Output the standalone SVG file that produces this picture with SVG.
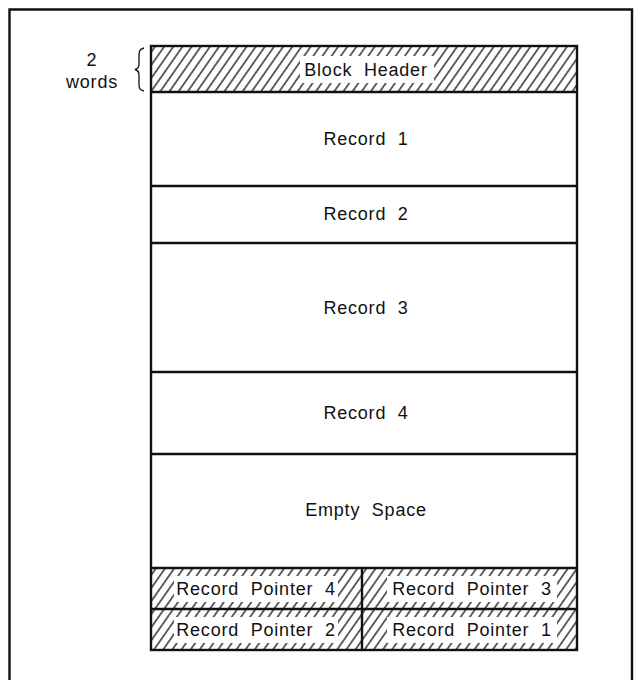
<svg xmlns="http://www.w3.org/2000/svg" width="641" height="680" viewBox="0 0 641 680">
<defs>
<pattern id="hatch" patternUnits="userSpaceOnUse" width="7.5" height="7.5" patternTransform="rotate(35)">
<line x1="3.75" y1="-1" x2="3.75" y2="9" stroke="#111" stroke-width="1.3"/>
</pattern>
</defs>
<style>
text{font-family:"Liberation Sans",Arial,Helvetica,sans-serif;font-size:18px;fill:#111;letter-spacing:0.8px;text-anchor:middle}
.cell{fill:#fff;stroke:none}
.hcell{fill:url(#hatch);stroke:none}
.gap{fill:#fff;stroke:none}
.ln{stroke:#111;stroke-width:2.4;fill:none}
</style>
<rect width="641" height="680" fill="#fff"/>
<path class="ln" d="M9.5,681 V9.5 H632 V681" stroke-width="2"/>

<g id="size-label">
<text x="92" y="66" xml:space="preserve">2</text>
<text x="92" y="88">words</text>
<path d="M144,48 C139,49 139,52 139,57 L139,64 C139,67 137,69 135,69.5 C137,70 139,72 139,75 L139,83 C139,88 139,90 144,91" fill="none" stroke="#111" stroke-width="1.3"/>
</g>

<g id="block-header">
<rect class="hcell" x="151" y="46" width="426" height="46"/>
<rect class="gap" x="300" y="56" width="134" height="27"/>
<text x="366" y="76" xml:space="preserve">Block  Header</text>
</g>

<g id="record-1">
<rect class="cell" x="151" y="92" width="426" height="94"/>
<text x="366" y="145" xml:space="preserve">Record  1</text>
</g>

<g id="record-2">
<rect class="cell" x="151" y="186" width="426" height="57"/>
<text x="366" y="220" xml:space="preserve">Record  2</text>
</g>

<g id="record-3">
<rect class="cell" x="151" y="243" width="426" height="129"/>
<text x="366" y="314" xml:space="preserve">Record  3</text>
</g>

<g id="record-4">
<rect class="cell" x="151" y="372" width="426" height="82"/>
<text x="366" y="419" xml:space="preserve">Record  4</text>
</g>

<g id="empty-space">
<rect class="cell" x="151" y="454" width="426" height="114"/>
<text x="366" y="516" xml:space="preserve">Empty  Space</text>
</g>

<g id="record-pointer-4">
<rect class="hcell" x="151" y="568" width="211" height="41"/>
<rect class="gap" x="174" y="576" width="164" height="26"/>
<text x="256" y="595" xml:space="preserve">Record  Pointer  4</text>
</g>

<g id="record-pointer-3">
<rect class="hcell" x="362" y="568" width="215" height="41"/>
<rect class="gap" x="387" y="576" width="170" height="26"/>
<text x="472" y="595" xml:space="preserve">Record  Pointer  3</text>
</g>

<g id="record-pointer-2">
<rect class="hcell" x="151" y="609" width="211" height="41"/>
<rect class="gap" x="174" y="617" width="164" height="26"/>
<text x="256" y="636" xml:space="preserve">Record  Pointer  2</text>
</g>

<g id="record-pointer-1">
<rect class="hcell" x="362" y="609" width="215" height="41"/>
<rect class="gap" x="387" y="617" width="170" height="26"/>
<text x="472" y="636" xml:space="preserve">Record  Pointer  1</text>
</g>

<g id="connectors">
<rect class="ln" x="151" y="46" width="426" height="604"/>
<line class="ln" x1="151" y1="92" x2="577" y2="92"/>
<line class="ln" x1="151" y1="186" x2="577" y2="186"/>
<line class="ln" x1="151" y1="243" x2="577" y2="243"/>
<line class="ln" x1="151" y1="372" x2="577" y2="372"/>
<line class="ln" x1="151" y1="454" x2="577" y2="454"/>
<line class="ln" x1="151" y1="568" x2="577" y2="568"/>
<line class="ln" x1="151" y1="609" x2="577" y2="609"/>
<line class="ln" x1="362" y1="568" x2="362" y2="650"/>
</g>
</svg>
